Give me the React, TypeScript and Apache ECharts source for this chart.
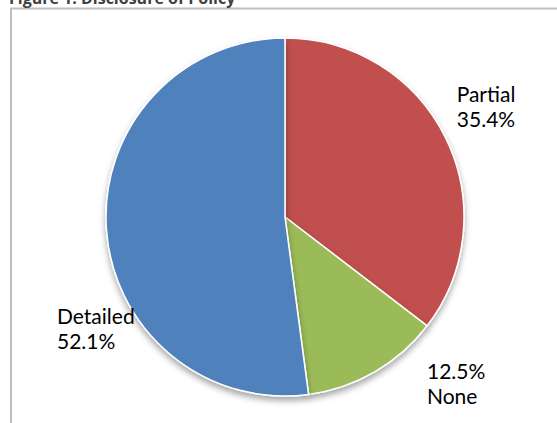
import React, { useEffect, useRef } from "react";
import * as echarts from "echarts";

const titleText = "Figure 1: Disclosure of Policy";
const categories = ["Partial", "None", "Detailed"];
const values = [35.4, 12.5, 52.1];
const colors = ["#C0504D", "#9BBB59", "#4F81BD"];
const labelFormats = ["{b}\n{c}%", "{c}%\n{b}", "{b}\n{c}%"];
const labelSpots = [
  { x: 486, y: 106, align: "center" },
  { x: 427, y: 383, align: "left" },
  { x: 57, y: 328, align: "left" },
];

export default function App() {
  const ref = useRef<HTMLDivElement>(null);
  useEffect(() => {
    if (!ref.current) return;
    const chart = echarts.init(ref.current, null, { renderer: "svg" });
    chart.setOption({
      animation: false,
      backgroundColor: "#ffffff",
      graphic: [
        {
          type: "rect",
          shape: { x: 11, y: 8.5, width: 600, height: 500 },
          style: { fill: "none", stroke: "#bfbfbf", lineWidth: 2 },
          z: 0,
        },
        {
          type: "text",
          x: 9,
          y: 6,
          style: {
            text: titleText,
            font: "bold 16px 'Open Sans', sans-serif",
            fill: "#404040",
            textVerticalAlign: "bottom",
          },
        },
      ],
      series: [
        {
          type: "pie",
          center: [285, 217],
          radius: [0, 179],
          startAngle: 90,
          clockwise: true,
          itemStyle: {
            borderColor: "#ffffff",
            borderWidth: 1.5,
            shadowBlur: 6,
            shadowColor: "rgba(0,0,0,0.35)",
            shadowOffsetY: 4,
          },
          label: {
            show: true,
            position: "outside",
            color: "#000000",
            fontFamily: "Lato, 'Open Sans', sans-serif",
            fontSize: 21,
            lineHeight: 25,
            overflow: "none",
          },
          labelLine: { show: false },
          labelLayout: (p: any) => {
            const s = labelSpots[p.dataIndex];
            return { x: s.x, y: s.y, align: s.align, verticalAlign: "middle" };
          },
          data: categories.map((c, i) => ({
            name: c,
            value: values[i],
            itemStyle: { color: colors[i] },
            label: { formatter: labelFormats[i], align: labelSpots[i].align },
          })),
        },
      ],
    });
    return () => chart.dispose();
  }, []);
  return (
    <div
      ref={ref}
      style={{ position: "fixed", left: 0, top: 0, width: 557, height: 423 }}
    />
  );
}
